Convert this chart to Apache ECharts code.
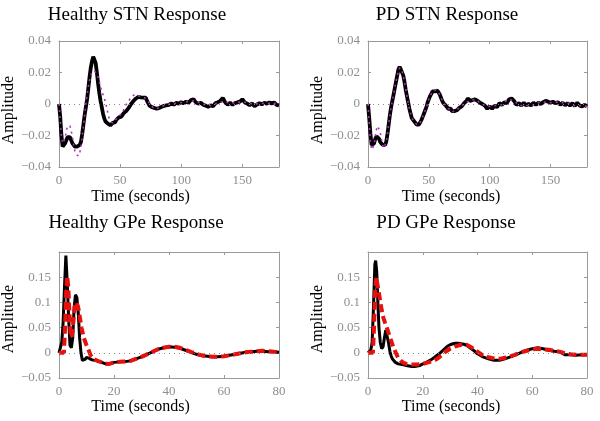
<!DOCTYPE html>
<html>
<head>
<meta charset="utf-8">
<script src="https://cdn.jsdelivr.net/npm/echarts@6/dist/echarts.min.js"></script>
<style>html,body{margin:0;padding:0;background:#fff;}#c{width:600px;height:421px;}</style>
</head>
<body>
<div id="c"></div>
<script>
// ---------- data ----------
const titles = ['Healthy STN Response', 'PD STN Response', 'Healthy GPe Response', 'PD GPe Response'];
const stnXTicks = ['0', '50', '100', '150'];
const stnYTicks = ['\u22120.04', '\u22120.02', '0', '0.02', '0.04'];
const gpeXTicks = ['0', '20', '40', '60', '80'];
const gpeYTicks = ['\u22120.05', '0', '0.05', '0.1', '0.15'];

// Healthy STN, measured response (black)
const hStnT = [0,1,2,3,4,5,6,7,8,9,10,11,12,13,14,15,16,17,18,19,20,21,22,23,24,25,26,27,28,29,30,31,32,33,34,35,36,37,38,39,40,41,42,43,44,45,46,47,48,49,50,51,52,53,54,55,56,57,58,59,60,61,62,63,64,65,66,67,68,69,70,71,72,73,74,75,76,77,78,79,80,81,82,83,84,85,86,87,88,89,90,92,94,96,98,100,102,104,106,108,110,112,114,116,118,120,122,124,126,128,130,132,134,136,138,140,142,144,146,148,150,152,154,156,158,160,162,164,166,168,170,172,174,176,178,180];
const hStnData = [0,-0.008,-0.020,-0.027,-0.027,-0.025,-0.023,-0.021,-0.020,-0.021,-0.023,-0.025,-0.026,-0.027,-0.027,-0.027,-0.027,-0.026,-0.024,-0.019,-0.013,-0.007,-0.002,0.003,0.010,0.017,0.023,0.027,0.030,0.029,0.026,0.020,0.013,0.007,0.002,-0.002,-0.006,-0.009,-0.011,-0.012,-0.0125,-0.013,-0.0135,-0.0125,-0.012,-0.011,-0.0115,-0.010,-0.0095,-0.0085,-0.0075,-0.008,-0.0068,-0.0058,-0.005,-0.0045,-0.0035,-0.0025,-0.0015,0,0.001,0.002,0.003,0.0035,0.004,0.0045,0.0038,0.0042,0.005,0.004,0.0045,0.004,0.002,0.0005,-0.001,-0.0015,-0.002,-0.003,-0.0025,-0.0035,-0.003,-0.002,-0.0025,-0.0015,-0.0018,-0.0008,-0.0012,-0.0003,-0.0008,0,-0.0005,0.0003,-0.0004,0.0008,0.0002,0.0012,0.0004,0.0015,0.0008,0.0025,0.003,0.001,0.0002,0.0008,-0.0005,-0.001,-0.0018,-0.0008,-0.0015,0.0005,0.0012,0.002,0.0038,0.001,-0.0004,0.0008,-0.0005,0.0006,0.001,0.0015,0.003,0.001,0.0002,-0.0008,0.0004,-0.0015,-0.0003,0.0005,-0.0002,0.0008,0.0002,0.001,0.0004,0.001,-0.0005,-0.0008];
// Healthy STN, model fit (magenta dotted)
const hStnFitT = [0,1,2,3,4,5,6,7,8,9,10,11,12,13,14,15,16,17,18,19,20,21,22,23,24,25,26,27,28,29,30,31,32,33,34,35,36,37,38,39,40,41,42,43,44,45,46,48,50,52,54,56,58,60,62,64,66,68,70,72,74,76,78,80,84,88,92,96,100,105,110,115,120,125,130,135,140,145,150,155,160,165,170,175,180];
const hStnFit = [0,-0.010,-0.020,-0.025,-0.026,-0.022,-0.017,-0.014,-0.013,-0.014,-0.017,-0.021,-0.026,-0.030,-0.032,-0.033,-0.033,-0.031,-0.027,-0.021,-0.014,-0.007,0,0.006,0.011,0.015,0.018,0.020,0.021,0.021,0.020,0.019,0.017,0.014,0.011,0.008,0.006,0.004,0.001,-0.002,-0.006,-0.009,-0.011,-0.012,-0.012,-0.011,-0.010,-0.009,-0.007,-0.005,-0.002,0.001,0.003,0.005,0.006,0.0055,0.005,0.0045,0.004,0.0025,0.0005,-0.0015,-0.003,-0.003,-0.0015,-0.0005,0.0002,0.0005,0.001,0.0015,0.002,0.0008,-0.0005,-0.001,0.0008,0.0015,0.0005,0.0008,0.0015,0.0005,0,0.0003,0.0005,0.0005,0];

// PD STN, measured response (black)
const pStnT = hStnT;
const pStnData = [0,-0.009,-0.019,-0.026,-0.027,-0.025,-0.022,-0.0205,-0.021,-0.022,-0.024,-0.025,-0.026,-0.026,-0.026,-0.024,-0.019,-0.013,-0.007,-0.002,0.002,0.006,0.010,0.014,0.018,0.022,0.0235,0.022,0.021,0.018,0.014,0.009,0.005,0.001,-0.003,-0.006,-0.009,-0.010,-0.011,-0.012,-0.013,-0.0135,-0.013,-0.012,-0.010,-0.008,-0.006,-0.004,-0.002,0.001,0.003,0.005,0.0065,0.008,0.0085,0.008,0.009,0.0085,0.0075,0.006,0.004,0.002,0.0005,-0.0005,-0.001,-0.002,-0.003,-0.0035,-0.003,-0.0045,-0.005,-0.0045,-0.0038,-0.004,-0.003,-0.0025,-0.002,-0.0015,-0.0005,0.0005,0.001,0.002,0.0035,0.004,0.002,0.0015,0.0025,0.0015,0.003,0.004,0.002,0.0008,0,-0.001,-0.003,-0.0015,-0.003,-0.001,-0.002,0.0005,-0.0005,0.001,0.0005,0.003,0.0035,0.002,-0.0005,0.0005,-0.001,0.0008,-0.001,0.0002,-0.001,0.0008,-0.0005,0.0008,0,0.0012,0.002,0.0015,0.0008,0.0015,0.0005,0.0012,-0.0005,0.0008,-0.0008,0.0005,-0.001,0.0005,-0.0012,0.0008,-0.001,-0.0015,-0.0005,-0.0015];
// PD STN, model fit (magenta dotted)
const pStnFitT = [0,1,2,3,4,5,6,7,8,9,10,11,12,13,14,15,16,17,18,19,20,22,24,26,28,30,32,34,36,38,40,42,44,46,48,50,52,54,56,58,60,62,64,66,68,70,72,74,76,78,80,84,88,92,96,100,105,110,115,120,125,130,135,140,145,150,155,160,165,170,175,180];
const pStnFit = [0,-0.012,-0.024,-0.029,-0.029,-0.026,-0.021,-0.016,-0.014,-0.015,-0.018,-0.022,-0.026,-0.028,-0.027,-0.024,-0.019,-0.013,-0.007,-0.002,0.002,0.010,0.018,0.023,0.021,0.014,0.005,-0.003,-0.009,-0.011,-0.013,-0.013,-0.010,-0.006,-0.002,0.003,0.0065,0.0085,0.009,0.0075,0.004,0.0005,-0.001,-0.003,-0.003,-0.005,-0.0038,-0.003,-0.002,-0.0005,0.001,0.002,0.003,0.0008,-0.001,-0.0015,-0.001,-0.0005,0.003,0.002,-0.001,-0.001,-0.001,0.0008,0.0012,0.0008,0.0012,0.0008,0.0005,-0.0012,-0.001,-0.0015];

// Healthy GPe
const hGpeT = [0,0.5,1,1.5,2,2.5,3,3.5,4,4.5,5,5.5,6,6.5,7,7.5,8,8.5,9,9.5,10,10.5,11,12,13,14,15,16,17,18,19,20,22,24,26,28,30,32,34,36,38,40,42,44,46,48,50,52,54,56,58,60,62,64,66,68,70,72,74,76,78,80];
const hGpeData = [0,0.003,0.02,0.06,0.13,0.193,0.14,0.07,0.015,0.01,0.03,0.09,0.115,0.11,0.08,0.03,0,-0.015,-0.016,-0.013,-0.009,-0.008,-0.011,-0.014,-0.015,-0.016,-0.018,-0.02,-0.022,-0.0225,-0.021,-0.019,-0.018,-0.0175,-0.016,-0.012,-0.008,-0.003,0.002,0.007,0.010,0.012,0.011,0.009,0.005,0.001,-0.003,-0.006,-0.007,-0.008,-0.008,-0.007,-0.005,-0.003,-0.001,0.001,0.002,0.003,0.003,0.002,0.002,0.001];
const hGpeFitT = [0,1,1.8,2.2,2.6,3,3.4,3.8,4.2,4.6,5.2,5.8,6.4,7,7.6,8.2,9,10,10.8,11.5,12.5,14,16,18,20,22,24,26,28,30,32,34,36,38,40,42,44,46,48,50,52,54,56,58,60,62,64,66,68,70,72,74,76,78,80];
const hGpeFit = [0,0,0,0.05,0.12,0.152,0.13,0.08,0.04,0.03,0.06,0.095,0.1,0.09,0.07,0.05,0.03,0.015,0.005,-0.005,-0.012,-0.016,-0.02,-0.0225,-0.019,-0.018,-0.0175,-0.016,-0.012,-0.008,-0.003,0.002,0.007,0.010,0.012,0.012,0.010,0.006,0.002,-0.002,-0.005,-0.007,-0.008,-0.008,-0.007,-0.005,-0.003,-0.001,0.001,0.002,0.003,0.004,0.003,0.002,0.001];

// PD GPe
const pGpeT = [0,1,1.5,2,2.5,2.8,3.2,3.6,4,4.5,5,5.5,6,6.5,7,7.5,8,8.5,9,10,11,12,13,14,15,16,17,18,19,20,21,22,23,24,25,26,27,28,29,30,31,32,33,34,35,36,37,38,39,40,42,44,46,48,50,52,54,56,58,60,62,64,66,68,70,72,74,76,78,80];
const pGpeData = [0,0.005,0.02,0.09,0.175,0.183,0.16,0.1,0.05,0.02,0.008,0.012,0.03,0.045,0.043,0.02,0.003,-0.007,-0.013,-0.019,-0.022,-0.023,-0.024,-0.025,-0.026,-0.027,-0.027,-0.026,-0.025,-0.022,-0.020,-0.017,-0.014,-0.010,-0.006,-0.002,0.003,0.008,0.013,0.016,0.018,0.019,0.019,0.018,0.017,0.015,0.011,0.007,0.003,-0.002,-0.008,-0.012,-0.015,-0.015,-0.012,-0.008,-0.004,0.001,0.005,0.008,0.010,0.008,0.005,0.003,0.002,-0.004,-0.004,-0.005,-0.004,-0.004];
const pGpeFitT = [0,1.8,2.2,2.6,3,3.4,3.8,4.4,5,5.6,6.2,7,7.6,8.4,9.2,10,11,12,13,14,16,18,20,22,24,26,28,30,32,34,36,38,40,42,44,46,48,50,52,54,56,58,60,62,64,66,68,70,72,74,76,78,80];
const pGpeFit = [0,0,0.05,0.12,0.15,0.15,0.125,0.105,0.085,0.07,0.06,0.048,0.038,0.025,0.012,0.002,-0.01,-0.016,-0.02,-0.022,-0.023,-0.023,-0.022,-0.019,-0.016,-0.009,0.001,0.008,0.013,0.016,0.016,0.010,0.002,-0.005,-0.009,-0.011,-0.012,-0.010,-0.007,-0.003,0.001,0.004,0.007,0.008,0.007,0.006,0.004,0.002,-0.001,-0.003,-0.004,-0.004,-0.004];

// ---------- chart ----------
const FONT = '"Liberation Serif", "Times New Roman", serif';
const AXIS_GRAY = '#9a9a9a';
const LABEL_GRAY = '#8f8f8f';
const zip = (t, v) => t.map((x, i) => [x, v[i]]);

const grids = [
  { left: 58, top: 41, width: 221, height: 126 },
  { left: 368, top: 41, width: 219, height: 126 },
  { left: 58, top: 252, width: 221, height: 126 },
  { left: 368, top: 252, width: 219, height: 126 }
];
const titleX = [137, 447, 136, 446];
const titleY = [15, 15, 223, 223];
const xNamePad = [57, 53, 57, 53];
const xNameGap = [22, 22, 20, 20];
const yNamePad = [12, 12, 8, 8];

function labelFor(ticks, min, step) {
  return function (v) {
    const k = Math.round((v - min) / step);
    if (Math.abs(min + k * step - v) > step * 1e-3) return '';
    return ticks[k] !== undefined ? ticks[k] : '';
  };
}

const isStn = [true, true, false, false];
const xAxes = [], yAxes = [];
grids.forEach((g, i) => {
  const stn = isStn[i];
  const xr = stn ? { min: 0, max: 180, interval: 50 } : { min: 0, max: 80, interval: 20 };
  const yr = stn ? { min: -0.04, max: 0.04, interval: 0.02 } : { min: -0.05, max: 0.2, interval: 0.05 };
  const xFmt = labelFor(stn ? stnXTicks : gpeXTicks, xr.min, xr.interval);
  const yFmt = labelFor(stn ? stnYTicks : gpeYTicks, yr.min, yr.interval);
  const line = { show: true, onZero: false, lineStyle: { color: AXIS_GRAY, width: 1 } };
  const tick = { show: true, inside: true, length: 3, lineStyle: { color: AXIS_GRAY } };
  xAxes.push({
    gridIndex: i, type: 'value', position: 'bottom', ...xr,
    axisLine: line, axisTick: tick, splitLine: { show: false },
    axisLabel: { formatter: xFmt, color: LABEL_GRAY, fontFamily: FONT, fontSize: 13, margin: 7 },
    name: 'Time (seconds)', nameLocation: 'middle', nameGap: xNameGap[i],
    nameTextStyle: { fontFamily: FONT, fontSize: 16, color: '#000', padding: [0, xNamePad[i], 0, 0] }
  });
  xAxes.push({
    gridIndex: i, type: 'value', position: 'top', ...xr,
    axisLine: line, axisTick: tick, splitLine: { show: false }, axisLabel: { show: false }
  });
  yAxes.push({
    gridIndex: i, type: 'value', position: 'left', ...yr,
    axisLine: line, axisTick: tick, splitLine: { show: false },
    axisLabel: { formatter: yFmt, color: LABEL_GRAY, fontFamily: FONT, fontSize: 13, margin: 8 },
    name: 'Amplitude', nameLocation: 'middle', nameGap: 38,
    nameTextStyle: { fontFamily: FONT, fontSize: 16, color: '#000', padding: [0, yNamePad[i], 0, 0] }
  });
  yAxes.push({
    gridIndex: i, type: 'value', position: 'right', ...yr,
    axisLine: line, axisTick: tick, splitLine: { show: false }, axisLabel: { show: false }
  });
});

const zeroLine = (color) => ({
  silent: true, symbol: 'none', label: { show: false },
  lineStyle: { type: [1, 4], color: color, width: 1 },
  data: [{ yAxis: 0 }]
});

function blackSeries(i, data, w) {
  return {
    type: 'line', xAxisIndex: 2 * i, yAxisIndex: 2 * i, data: data,
    showSymbol: false, symbol: 'none', z: 2,
    lineStyle: { color: '#000', width: w },
    markLine: zeroLine(isStn[i] ? '#a070a8' : '#888')
  };
}
function fitSeries(i, data) {
  const stn = isStn[i];
  return {
    type: 'line', xAxisIndex: 2 * i, yAxisIndex: 2 * i, data: data,
    showSymbol: false, symbol: 'none', z: 3,
    lineStyle: stn
      ? { color: '#b02fb8', width: 1.6, type: [2, 4] }
      : { color: '#e8100c', width: 4, type: [8, 4] }
  };
}

const option = {
  animation: false,
  backgroundColor: '#fff',
  graphic: titles.map((t, i) => ({
    type: 'text', x: titleX[i], y: titleY[i], silent: true,
    style: { text: t, fill: '#000', font: '19px "Liberation Serif", "Times New Roman", serif', align: 'center', verticalAlign: 'middle' }
  })),
  grid: grids,
  xAxis: xAxes,
  yAxis: yAxes,
  series: [
    blackSeries(0, zip(hStnT, hStnData), 3.8),
    fitSeries(0, zip(hStnFitT, hStnFit)),
    blackSeries(1, zip(pStnT, pStnData), 3.8),
    fitSeries(1, zip(pStnFitT, pStnFit)),
    blackSeries(2, zip(hGpeT, hGpeData), 3),
    fitSeries(2, zip(hGpeFitT, hGpeFit)),
    blackSeries(3, zip(pGpeT, pGpeData), 3),
    fitSeries(3, zip(pGpeFitT, pGpeFit))
  ]
};

const chart = echarts.init(document.getElementById('c'), null, { renderer: 'canvas' });
chart.setOption(option);
</script>
</body>
</html>
